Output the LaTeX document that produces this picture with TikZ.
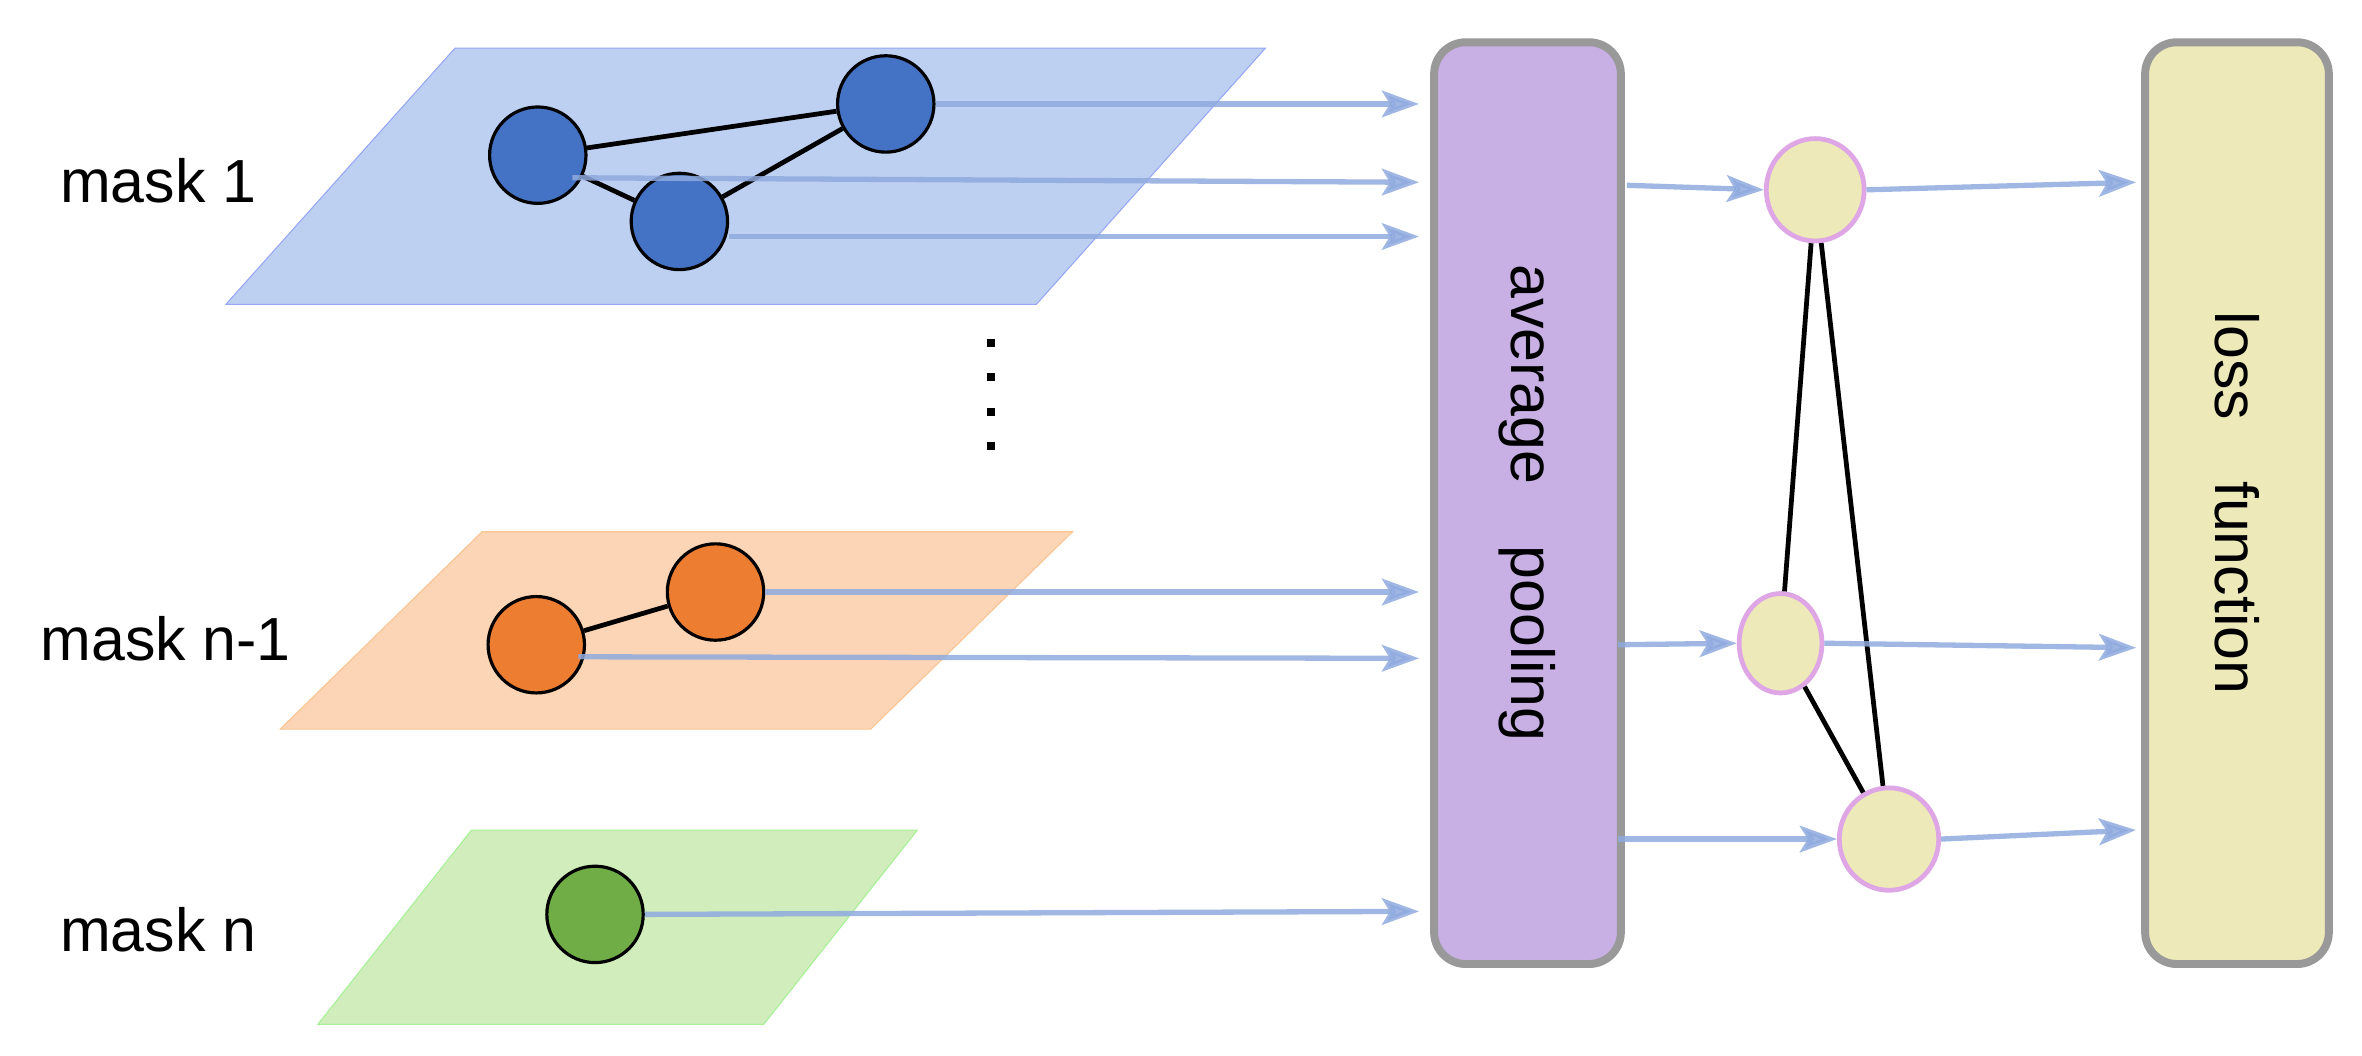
\documentclass[tikz,border=0pt]{standalone}
\usepackage{fontspec}
\setmainfont{Liberation Sans}
\usetikzlibrary{arrows.meta,shapes.geometric}
\definecolor{arr}{HTML}{8FAADF}
\definecolor{bplane}{HTML}{BDD0F2}
\definecolor{oplane}{HTML}{FBD5B5}
\definecolor{gplane}{HTML}{D0EDBB}
\definecolor{bnode}{HTML}{4472C4}
\definecolor{onode}{HTML}{ED7D31}
\definecolor{gnode}{HTML}{70AD47}
\definecolor{ynode}{HTML}{EDE9B9}
\definecolor{pinkb}{HTML}{DFA6E6}
\definecolor{purp}{HTML}{C8B0E4}
\begin{document}
\begin{tikzpicture}[x=0.02cm,y=-0.02cm,
  gnd/.style={circle,draw=black,line width=1.2pt,minimum size=1.28cm,inner sep=0},
  yn/.style={ellipse,draw=pinkb,fill=ynode,line width=1.8pt,inner sep=0},
  ar/.style={draw=arr,line width=2pt,opacity=0.85,-{Stealth[length=14pt,width=10pt,inset=3pt]}},
  ed/.style={black,line width=1.8pt},
  box/.style={draw=black!40,line width=3pt,rounded corners=12pt},
  lab/.style={font=\fontsize{23}{28}\selectfont},
  bt/.style={font=\fontsize{23}{28}\selectfont,rotate=-90}]
\useasboundingbox (0,0) rectangle (1568,701);
% planes
\path[fill=bplane,draw=bplane!80!blue] (302,32)--(840,32)--(688,202)--(150,202)--cycle;
\path[fill=oplane,draw=oplane!80!orange] (320,353)--(712,353)--(578,484)--(186,484)--cycle;
\path[fill=gplane,draw=gplane!80!green] (313,551)--(609,551)--(507,680)--(211,680)--cycle;
% labels
\node[lab] (l1) at (105,120) {mask 1};
\node[lab] (l2) at (110,424) {mask n-1};
\node[lab] (l3) at (105,617) {mask n};
% nodes
\node[gnd,fill=bnode] (A) at (357,103) {};
\node[gnd,fill=bnode] (B) at (588,69) {};
\node[gnd,fill=bnode] (C) at (451,147) {};
\node[gnd,fill=onode] (D) at (356,428) {};
\node[gnd,fill=onode] (E) at (475,393) {};
\node[gnd,fill=gnode] (F) at (395,607) {};
\draw[ed] (A)--(B) (A)--(C) (C)--(B) (D)--(E);
% dots
\draw[line width=3pt,dash pattern=on 3pt off 10pt] (658,225)--(658,308);
% boxes
\node[box,fill=purp,minimum width=2.48cm,minimum height=12.24cm] (P) at (1014,334) {};
\node[bt] at (P) {average\quad pooling};
\node[box,fill=ynode,minimum width=2.44cm,minimum height=12.24cm] (L) at (1485,334) {};
\node[bt] at (L) {loss\quad function};
% input arrows
\coordinate (p1) at (942,69); \coordinate (p2) at (942,121); \coordinate (p3) at (942,157);
\coordinate (p4) at (942,393); \coordinate (p5) at (942,437); \coordinate (p6) at (942,605);
\draw[ar] (B.east) -- (p1);
\draw[ar] (380,118) -- (p2);
\draw[ar] (C.east|-0,157) -- (p3);
\draw[ar] (E.east) -- (p4);
\draw[ar] (384,436) -- (p5);
\draw[ar] (F.east) -- (p6);
% yellow nodes
\node[yn,minimum width=1.3cm,minimum height=1.36cm] (G) at (1205,126) {};
\node[yn,minimum width=1.1cm,minimum height=1.32cm] (H) at (1182,427) {};
\node[yn,minimum width=1.32cm,minimum height=1.36cm] (I) at (1254,557) {};
\draw[ed] (G)--(H) (G)--(I) (H)--(I);
\coordinate (q1) at (1080,123); \coordinate (q2) at (1074,428); \coordinate (q3) at (1074,557);
\draw[ar] (q1) -- (G.west);
\draw[ar] (q2) -- (H.west);
\draw[ar] (q3) -- (I.west);
\coordinate (r1) at (1418,121); \coordinate (r2) at (1418,430); \coordinate (r3) at (1418,551);
\draw[ar] (G.east) -- (r1);
\draw[ar] (H.east) -- (r2);
\draw[ar] (I.east) -- (r3);
\end{tikzpicture}
\end{document}
